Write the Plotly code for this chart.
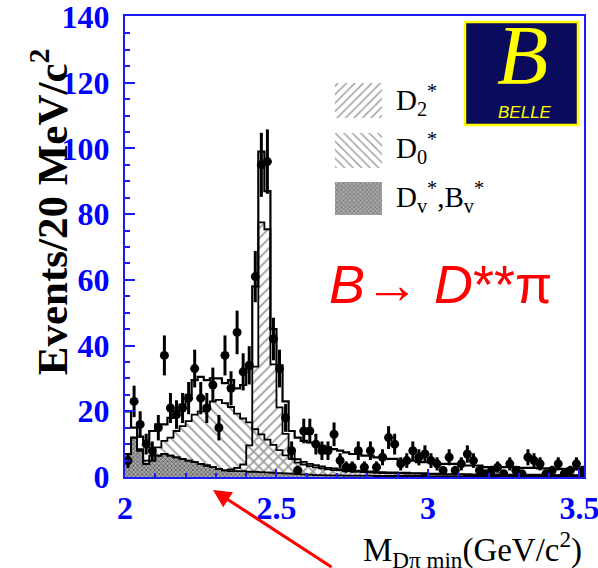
import numpy as np
import plotly.graph_objects as go

# ---------------- data (20 MeV bins starting at 2.00 GeV) ----------------
bin_lo = 2.0
bin_w = 0.02

counts = [5, 23, 16, 10, 8, 15, 37, 21, 19, 21,
          24, 33, 24, 21, 28, 15, 37, 27, 44, 32,
          34, 61, 95, 96, 42, 33, 18, 8, 2, 14,
          14, 10, 8, 8, 13, 5, 3, 3, 8, 3,
          8, 3, 6, 12, 10, 4, 5, 8, 6, 7,
          5, 4, 2, 6, 2, 4, 7, 5, 2, 1,
          2, 3, 1, 4, 2, 1, 6, 5, 4, 1,
          2, 4, 1, 2, 4, 2]

total = [20, 15, 12.3, 11, 14, 16, 16, 18, 20, 22,
         25, 29.5, 30.5, 29.5, 30, 30, 28.6, 29.5, 27, 28,
         33, 58, 99, 87, 45, 34, 23, 14, 12, 11,
         10.5, 10, 9.5, 9, 8.5, 8, 7.5, 7, 7, 6.5,
         6.5, 6, 6, 5.5, 5.5, 5, 5, 5, 4.5, 4.5,
         4.5, 4, 4, 4, 4, 3.5, 3.5, 3.5, 3.5, 3,
         3, 3, 3, 3, 3, 2.8, 2.8, 2.8, 2.6, 2.6,
         2.5, 2.5, 2.5, 2.4, 2.4, 2.4]

dv = [7, 12, 8, 4, 5, 6.5, 7, 6.5, 6, 5.5,
      5, 4.5, 4, 3.5, 3, 2.5, 2, 1.8, 1.8, 1.8,
      1.6, 1.6, 1.5, 1.4, 1.3, 1.2, 1.1, 1.0, 0.9, 0.8,
      0.7, 0.6, 0.6, 0.5, 0.5, 0.5, 0.4, 0.4, 0.4, 0.4,
      0.4, 0.3, 0.3, 0.3, 0.3, 0.3, 0.3, 0.3, 0.3, 0.3,
      0.2, 0.2, 0.2, 0.2, 0.2, 0.2, 0.2, 0.2, 0.2, 0.2,
      0.2, 0.2, 0.2, 0.2, 0.2, 0.2, 0.2, 0.2, 0.2, 0.2,
      0.2, 0.2, 0.2, 0.2, 0.2, 0.2]

d0 = [0, 0, 0.5, 1, 1.5, 2.5, 4, 5.5, 8, 10,
      12, 14.5, 16, 18, 20, 21, 20.5, 19.5, 17.5, 16,
      15, 13, 11.5, 10, 8.5, 7, 5.5, 4.5, 3.5, 3,
      2.6, 2.3, 2, 1.8, 1.6, 1.5, 1.4, 1.3, 1.2, 1.1,
      1.0, 1.0, 0.9, 0.9, 0.8, 0.8, 0.7, 0.7, 0.7, 0.6,
      0.6, 0.6, 0.5, 0.5, 0.5, 0.5, 0.4, 0.4, 0.4, 0.4,
      0.4, 0.3, 0.3, 0.3, 0.3, 0.3, 0.3, 0.3, 0.3, 0.3,
      0.3, 0.3, 0.3, 0.3, 0.3, 0.3]

d2 = [0, 0, 0, 0, 0, 0, 0, 0, 0, 0,
      0, 0, 0, 0, 0, 0, 0, 0.5, 1, 2,
      8, 32, 76, 74, 33, 20, 12, 6, 4.5, 3.8,
      3.3, 3, 2.6, 2.3, 2.1, 1.9, 1.7, 1.6, 1.5, 1.4,
      1.3, 1.2, 1.2, 1.1, 1.1, 1.0, 1.0, 0.9, 0.9, 0.9,
      0.8, 0.8, 0.8, 0.7, 0.7, 0.7, 0.7, 0.6, 0.6, 0.6,
      0.6, 0.6, 0.5, 0.5, 0.5, 0.5, 0.5, 0.5, 0.5, 0.5,
      0.5, 0.4, 0.4, 0.4, 0.4, 0.4]

x_ticks = [2, 2.5, 3, 3.5]
x_ticklabels = ["2", "2.5", "3", "3.5"]
y_ticks = [0, 20, 40, 60, 80, 100, 120, 140]

# ---------------- derived ----------------
n = len(counts)
centers = [bin_lo + bin_w * (i + 0.5) for i in range(n)]
edges = [bin_lo + bin_w * i for i in range(n + 1)]
dv_a = np.array(dv)
top_d0 = (dv_a + np.array(d0)).tolist()
top_d2 = (dv_a + np.array(d2)).tolist()


def step(v):
    return list(v) + [v[-1]]


fig = go.Figure()

CLEAR = "rgba(0,0,0,0)"
# D2* (///)
fig.add_bar(x=centers, y=d2, base=dv, width=bin_w,
            marker=dict(color="#9a9a9a", line=dict(width=0),
                        pattern=dict(shape="/", fgcolor="#9a9a9a", bgcolor=CLEAR,
                                     size=7, solidity=0.25, fillmode="replace")))
# D0* (\\\)
fig.add_bar(x=centers, y=d0, base=dv, width=bin_w,
            marker=dict(color="#9a9a9a", line=dict(width=0),
                        pattern=dict(shape="\\", fgcolor="#9a9a9a", bgcolor=CLEAR,
                                     size=7, solidity=0.25, fillmode="replace")))
# Dv*, Bv* (dark grey)
fig.add_bar(x=centers, y=dv, width=bin_w,
            marker=dict(color="#8a8a8a", line=dict(width=0),
                        pattern=dict(shape="x", fgcolor="#505050", bgcolor="#a8a8a8",
                                     size=3, solidity=0.4, fillmode="replace")))

# outlines
for vals, w in [(dv, 1.8), (top_d0, 1.8), (top_d2, 1.8), (total, 2.2)]:
    fig.add_scatter(x=edges, y=step(vals), mode="lines",
                    line=dict(shape="hv", color="black", width=w),
                    hoverinfo="skip")

# data points
cx = [c for c, v in zip(centers, counts) if v > 0]
cy = [v for v in counts if v > 0]
fig.add_scatter(x=cx, y=cy, mode="markers",
                marker=dict(color="black", size=9),
                error_y=dict(type="data", array=np.sqrt(cy).tolist(),
                             color="black", thickness=3, width=0))

# legend swatches (hidden overlay axes, 0..1 frame)
sw = [
    ("/", CLEAR, "#a0a0a0", 0.7787, 0.0760, 6),
    ("\\", CLEAR, "#a0a0a0", 0.6703, 0.0760, 6),
    ("x", "#a8a8a8", "#505050", 0.5683, 0.0716, 3),
]
for shp, bg, fg, b, h, sz in sw:
    fig.add_bar(x=[0.5087], y=[h], base=[b], width=[0.1024],
                xaxis="x2", yaxis="y2",
                marker=dict(color=fg, line=dict(width=0),
                            pattern=dict(shape=shp, fgcolor=fg, bgcolor=bg,
                                         size=sz, solidity=0.25, fillmode="replace")))

BLUE = "#1a1aff"
axis_common = dict(showline=True, linecolor=BLUE, linewidth=2, mirror=True,
                   showgrid=False, zeroline=False, ticks="inside",
                   tickcolor=BLUE, tickwidth=2, ticklabeloverflow="allow",
                   automargin=False,
                   tickfont=dict(family="Liberation Serif", size=32, color="blue",
                                 weight="bold"))

fig.update_layout(
    width=598, height=568,
    margin=dict(l=125, r=14, t=16, b=91, autoexpand=False),
    plot_bgcolor="white", paper_bgcolor="white",
    barmode="overlay", bargap=0, showlegend=False,
    xaxis=dict(range=[2, 3.515], tickvals=x_ticks, ticktext=x_ticklabels,
               ticklen=8, ticklabelstandoff=2,
               minor=dict(dtick=0.1, tick0=2, ticks="inside", ticklen=4,
                          tickcolor=BLUE, tickwidth=1.5),
               **axis_common),
    yaxis=dict(range=[0, 140.3], tickvals=y_ticks, ticklen=10,
               ticklabelstandoff=7,
               minor=dict(dtick=5, tick0=0, ticks="inside", ticklen=5,
                          tickcolor=BLUE, tickwidth=1.5),
               **axis_common),
    xaxis2=dict(overlaying="x", range=[0, 1], visible=False, anchor="y2",
                automargin=False),
    yaxis2=dict(overlaying="y", range=[0, 1], visible=False, anchor="x2",
                automargin=False),
)

ann = []
# axis titles
ann.append(dict(xref="paper", yref="paper", x=1.0, y=-0.158, xanchor="right",
                yanchor="middle", showarrow=False,
                text="M<sub>Dπ min</sub>(GeV/c<sup>2</sup>)",
                font=dict(family="Liberation Serif", size=33, color="black")))
ann.append(dict(xref="paper", yref="paper", x=-0.165, y=0.575, xanchor="center",
                yanchor="middle", showarrow=False, textangle=-90,
                text="Events/20 MeV/c<sup>2</sup>",
                font=dict(family="Liberation Serif", size=43, color="black",
                          weight="bold")))
# red process label
ann.append(dict(xref="paper", yref="paper", x=0.688, y=0.419, xanchor="center",
                yanchor="middle", showarrow=False,
                text="<i>B</i>→ <i>D</i>**π",
                font=dict(family="Liberation Sans", size=54, color="red")))
# legend labels
for txt, yy in [("D<sub>2</sub><sup>*</sup>", 0.818),
                ("D<sub>0</sub><sup>*</sup>", 0.713),
                ("D<sub>v</sub><sup>*</sup>,B<sub>v</sub><sup>*</sup>", 0.607)]:
    ann.append(dict(xref="paper", yref="paper", x=0.585, y=yy, xanchor="left",
                    yanchor="middle", showarrow=False, text=txt,
                    font=dict(family="Liberation Serif", size=29, color="black")))
# Belle logo text
ann.append(dict(xref="paper", yref="paper", x=0.865, y=0.915, xanchor="center",
                yanchor="middle", showarrow=False, text="<i>B</i>",
                font=dict(family="Liberation Serif", size=84, color="#ffff00")))
ann.append(dict(xref="paper", yref="paper", x=0.872, y=0.79, xanchor="center",
                yanchor="middle", showarrow=False, text="<i>BELLE</i>",
                font=dict(family="Liberation Sans", size=17, color="#ffff00")))
# cut-off title parentheses
ann.append(dict(xref="paper", yref="paper", x=0.117, y=1.075, xanchor="center",
                yanchor="bottom", showarrow=False, text="(", borderpad=0,
                font=dict(family="Liberation Sans", size=60, color="black",
                          weight="bold")))
ann.append(dict(xref="paper", yref="paper", x=0.395, y=1.075, xanchor="center",
                yanchor="bottom", showarrow=False, text=")", borderpad=0,
                font=dict(family="Liberation Sans", size=60, color="black",
                          weight="bold")))
# red arrow
ann.append(dict(xref="paper", yref="paper", x=0.1917, y=-0.028, text="",
                showarrow=True, ax=120, ay=82, arrowcolor="red", arrowwidth=3,
                arrowhead=2, arrowsize=1.2))
fig.update_layout(annotations=ann)

fig.update_layout(shapes=[
    dict(type="rect", xref="paper", yref="paper",
         x0=(465 - 125) / 459, x1=(578 - 125) / 459,
         y0=(477 - 125) / 461, y1=(477 - 22) / 461,
         fillcolor="#0b0b5e", line=dict(color="#ffff00", width=2.5), layer="above"),
])
fig.write_html("out.html")
